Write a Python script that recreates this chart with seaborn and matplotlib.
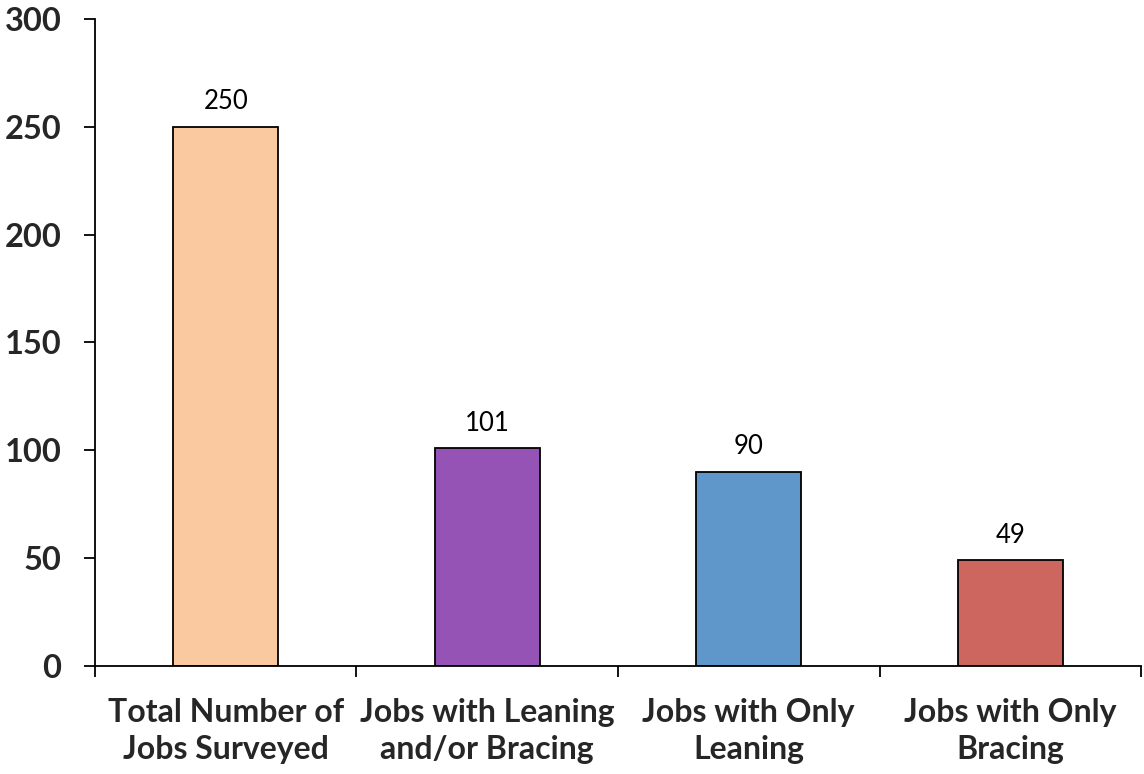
import matplotlib
matplotlib.use("Agg")
import matplotlib.pyplot as plt
import seaborn as sns
import pandas as pd

categories = [
    "Total Number of\nJobs Surveyed",
    "Jobs with Leaning\nand/or Bracing",
    "Jobs with Only\nLeaning",
    "Jobs with Only\nBracing",
]
values = [250, 101, 90, 49]
colors = ["#FAC9A0", "#9553B5", "#6097CA", "#CD665E"]
y_ticks = [0, 50, 100, 150, 200, 250, 300]

sns.set_theme(style="white")
plt.rcParams["font.family"] = ["Lato", "DejaVu Sans"]

df = pd.DataFrame({"category": categories, "value": values})

fig = plt.figure(figsize=(11.44, 7.74), dpi=100)
ax = fig.add_axes([0.0830, 0.1395, 0.9144, 0.8360])

sns.barplot(
    data=df, x="category", y="value", hue="category", palette=colors,
    width=0.40, edgecolor="black", linewidth=1.3, legend=False, ax=ax,
    saturation=1,
)

for container in ax.containers:
    ax.bar_label(container, fmt="%d", padding=9, fontsize=18.5, color="black")

ax.set_xlim(-0.5, len(categories) - 0.5)
ax.set_ylim(0, 300)
ax.set_yticks(y_ticks)
ax.set_yticklabels([str(t) for t in y_ticks], fontsize=23.5, fontweight="bold")

# category boundaries carry the tick marks, labels sit at bar centres
ax.set_xticks([i - 0.5 for i in range(len(categories) + 1)])
ax.set_xticklabels([])
ax.set_xticks(range(len(categories)), minor=True)
ax.set_xticklabels(categories, minor=True, fontsize=23, fontweight="bold",
                   linespacing=1.35)
ax.tick_params(axis="x", which="major", direction="out", length=8, width=1.3,
               color="black", bottom=True)
ax.tick_params(axis="x", which="minor", length=0, pad=23)
ax.tick_params(axis="y", direction="out", length=8, width=1.3, color="black",
               left=True, pad=16)

ax.set_xlabel("")
ax.set_ylabel("")
sns.despine(ax=ax)
for side in ("left", "bottom"):
    ax.spines[side].set_color("black")
    ax.spines[side].set_linewidth(1.3)

fig.savefig("out.png", dpi=100)
